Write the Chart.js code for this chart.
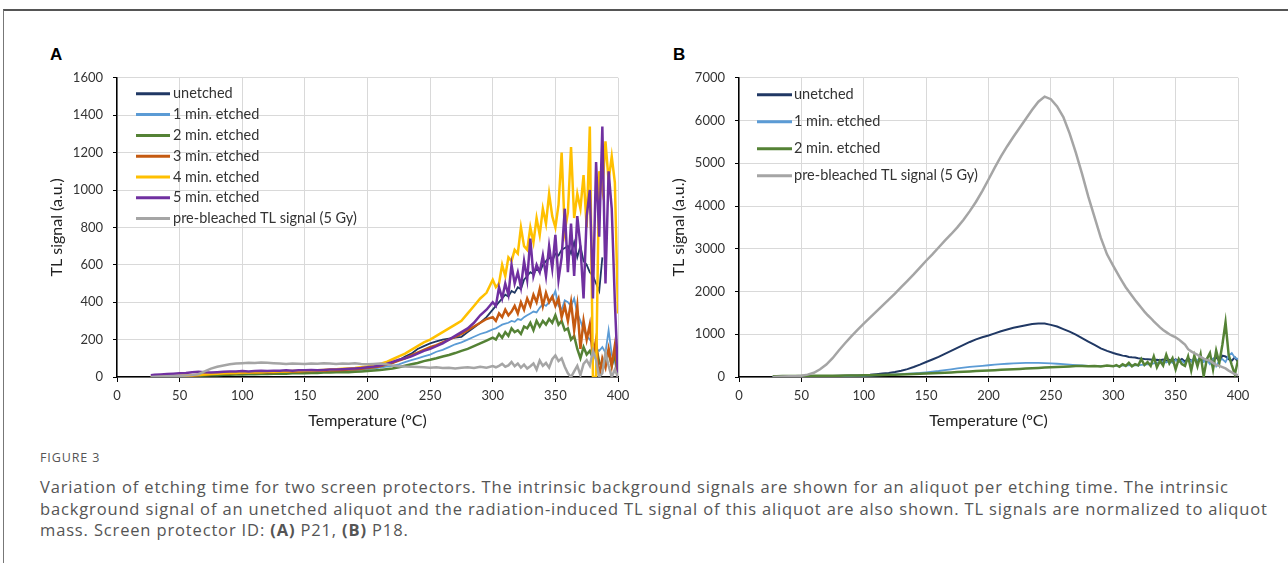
<!DOCTYPE html>
<html>
<head>
<meta charset="utf-8">
<script src="https://cdn.jsdelivr.net/npm/chart.js@4.4.1/dist/chart.umd.min.js"></script>
<style>
  body { margin: 0; background: #fff; width: 1288px; height: 563px; overflow: hidden; position: relative; }
  #frame { position: absolute; left: 3px; top: 9px; width: 1300px; height: 600px; border-top: 2px solid #555; border-left: 1px solid #777; }
  .panel { position: absolute; font: bold 17px "Liberation Sans", Arial, sans-serif; color: #000; line-height: 17px; }
  canvas { position: absolute; }
  #figlabel { position: absolute; left: 40px; top: 451px; font: 12.5px "Open Sans", sans-serif; color: #555; line-height: 14px; letter-spacing: 0.9px; }
  #captext { position: absolute; left: 40px; top: 476px; font: 16.5px "Open Sans", sans-serif; color: #555; line-height: 21.5px; white-space: nowrap; letter-spacing: 0.85px; }
</style>
</head>
<body>
<div id="frame"></div>
<div class="panel" style="left:50px; top:46px;">A</div>
<div class="panel" style="left:673px; top:46px;">B</div>
<canvas id="chartA" width="600" height="380" style="left:40px; top:60px;"></canvas>
<canvas id="chartB" width="600" height="380" style="left:660px; top:60px;"></canvas>
<div id="figlabel">FIGURE 3</div>
<div id="captext">Variation of etching time for two screen protectors. The intrinsic background signals are shown for an aliquot per etching time. The intrinsic<br>background signal of an unetched aliquot and the radiation-induced TL signal of this aliquot are also shown. TL signals are normalized to aliquot<br>mass. Screen protector ID: <b>(A)</b> P21, <b>(B)</b> P18.</div>

<script>
// Temperatur-Raster (°C), gemeinsam fuer beide Diagramme
const temps = [27, 30, 35, 40, 45, 50, 55, 60, 65, 70, 75,
    80, 85, 90, 95, 100, 105, 110, 115, 120, 125,
    130, 135, 140, 145, 150, 155, 160, 165, 170, 175,
    180, 185, 190, 195, 200, 205, 210, 215, 220, 225,
    230, 235, 240, 245, 250, 255, 260, 265, 270, 275,
    280, 285, 290, 295, 300,
    302.5, 305, 307.5, 310, 312.5, 315, 317.5, 320, 322.5, 325,
    327.5, 330, 332.5, 335, 337.5, 340, 342.5, 345, 347.5, 350,
    352.5, 355, 357.5, 360, 362.5, 365, 367.5, 370, 372.5, 375,
    377.5, 380, 382.5, 385, 387.5, 390, 392.5, 395, 397.5, 400];

// Diagramm A (P21)
const namesA = ['unetched', '1 min. etched', '2 min. etched', '3 min. etched', '4 min. etched', '5 min. etched', 'pre-bleached TL signal (5 Gy)'];

const unetchedA = [0, 0, 2, 3, 4, 5, 5, 6, 8, 10, 12,
    14, 15, 16, 18, 18, 20, 20, 22, 22, 24,
    24, 25, 26, 28, 28, 30, 30, 32, 34, 35,
    36, 38, 40, 42, 46, 50, 56, 64, 75, 90,
    110, 125, 150, 165, 180, 190, 200, 205, 210, 215,
    240, 265, 290, 320, 360,
    380, 400, 420, 440, 430, 460, 450, 480, 470, 520,
    540, 560, 550, 580, 560, 600, 620, 640, 620, 660,
    650, 680, 690, 700, 660, 720, 640, 700, 620, 600,
    560, 540, 500, 460, 640, null, null, null, null, null];

const etched1A = [0, 2, 3, 4, 5, 6, 6, 8, 10, 12, 14,
    15, 16, 18, 18, 20, 20, 22, 22, 24, 24,
    25, 26, 26, 28, 28, 30, 30, 32, 32, 34,
    35, 36, 38, 40, 42, 45, 50, 55, 60, 68,
    80, 90, 100, 110, 120, 135, 145, 160, 175, 185,
    200, 215, 230, 240, 255,
    260, 270, 280, 285, 290, 300, 295, 310, 305, 320,
    330, 340, 350, 345, 370, 390, 380, 400, 420, 460,
    380, 360, 410, 400, 380, 420, 340, 300, 250, 220,
    200, 180, 150, 140, 160, 130, 250, 120, 80, 0];

const etched2A = [0, 0, 2, 2, 3, 4, 4, 5, 6, 8, 10,
    10, 12, 12, 14, 14, 15, 15, 16, 16, 18,
    18, 18, 20, 20, 20, 22, 22, 24, 24, 25,
    25, 26, 28, 30, 32, 35, 38, 42, 46, 52,
    60, 68, 75, 85, 92, 100, 110, 118, 128, 140,
    150, 165, 180, 195, 210,
    200, 230, 210, 240, 220, 260, 240, 250, 230, 270,
    260, 290, 250, 300, 270, 300, 280, 310, 290, 330,
    280, 300, 250, 260, 200, 220, 150, 100, 160, 120,
    140, 100, 160, 80, 50, 90, 140, 60, 120, 20];

const etched3A = [0, 0, 2, 3, 4, 5, 6, 8, 10, 14, 16,
    18, 20, 20, 22, 22, 24, 24, 25, 26, 26,
    28, 28, 30, 30, 32, 32, 34, 34, 36, 36,
    38, 40, 42, 44, 48, 52, 58, 66, 76, 88,
    100, 115, 130, 145, 160, 170, 185, 200, 215, 230,
    250, 270, 290, 310, 320,
    300, 340, 320, 360, 330, 350, 380, 340, 400, 360,
    420, 380, 440, 400, 470, 380, 450, 400, 430, 380,
    420, 320, 380, 300, 400, 250, 380, 150, 300, 200,
    280, 100, 200, 0, 100, 50, 150, 60, 170, 0];

const etched4A = [0, 0, 2, 4, 5, 6, 8, 10, 12, 14, 16,
    18, 20, 22, 22, 24, 24, 26, 26, 28, 28,
    30, 30, 32, 32, 34, 34, 36, 38, 40, 42,
    44, 46, 48, 52, 56, 62, 70, 80, 95, 110,
    125, 145, 165, 185, 200, 220, 240, 260, 280, 300,
    340, 380, 420, 450, 520,
    480, 500, 600, 540, 640, 620, 680, 660, 800, 700,
    680, 800, 720, 850, 760, 900, 820, 980, 860, 800,
    920, 1200, 780, 880, 1230, 850, 980, 900, 1080, 800,
    1340, 0, 0, 1100, 1000, 1260, 1050, 1180, 1040, 340];

const etched5A = [10, 12, 14, 16, 18, 20, 22, 25, 28, 25, 24,
    26, 28, 30, 30, 32, 30, 32, 34, 32, 34,
    34, 36, 34, 36, 36, 38, 36, 38, 40, 40,
    42, 44, 46, 48, 52, 56, 62, 70, 80, 92,
    100, 110, 125, 140, 150, 165, 180, 200, 220, 240,
    260, 290, 330, 360, 400,
    380, 480, 420, 500, 440, 600, 500, 560, 480, 620,
    520, 740, 540, 600, 560, 650, 540, 700, 580, 760,
    520, 640, 900, 560, 820, 540, 860, 700, 420, 860,
    1000, 420, 1150, 750, 1340, 500, 1100, 900, 400, 0];

const bleachedA = [0, 2, 3, 4, 5, 6, 8, 10, 15, 30, 45,
    55, 62, 68, 72, 74, 76, 75, 77, 76, 74,
    72, 70, 72, 71, 70, 72, 71, 73, 72, 70,
    72, 71, 73, 70, 68, 70, 72, 68, 62, 58,
    56, 55, 54, 52, 50, 52, 48, 50, 46, 49,
    52, 48, 55, 50, 58,
    52, 60, 70, 55, 62, 80, 58, 72, 50, 66,
    45, 58, 72, 40, 88, 60, 75, 50, 95, 115,
    85, 100, 55, 20, 0, 30, 60, 10, 70, 90,
    60, 140, 90, 0, 20, 130, 60, 0, 40, 0];

// Diagramm B (P18)
const namesB = ['unetched', '1 min. etched', '2 min. etched', 'pre-bleached TL signal (5 Gy)'];

const unetchedB = [0, 0, 5, 8, 10, 12, 15, 18, 20, 22, 25,
    28, 30, 33, 36, 40, 50, 65, 80, 95, 115,
    145, 185, 235, 290, 350, 410, 470, 540, 610, 680,
    750, 820, 880, 930, 970, 1020, 1070, 1110, 1150, 1180,
    1210, 1240, 1250, 1250, 1220, 1180, 1120, 1060, 990, 910,
    830, 750, 670, 610, 560,
    540, 520, 500, 490, 470, 460, 455, 440, 430, 420,
    415, 410, 400, 405, 390, 410, 380, 400, 370, 410,
    380, 420, 360, 440, 380, 420, 360, 450, 400, 430,
    350, 420, 460, 380, 500, 480, 420, 380, 460, 350];

const etched1B = [0, 0, 2, 3, 5, 6, 8, 10, 12, 14, 16,
    18, 20, 22, 25, 28, 32, 38, 45, 52, 60,
    68, 76, 85, 95, 110, 125, 140, 160, 180, 200,
    220, 235, 250, 262, 275, 288, 300, 310, 318, 325,
    330, 332, 330, 325, 318, 310, 300, 290, 280, 270,
    262, 258, 255, 255, 258,
    262, 260, 270, 265, 275, 270, 280, 275, 285, 290,
    295, 300, 320, 340, 330, 360, 340, 380, 330, 400,
    350, 380, 320, 420, 360, 450, 380, 470, 350, 400,
    300, 420, 250, 380, 420, 350, 500, 560, 450, 420];

const etched2B = [20, 20, 22, 22, 22, 25, 25, 28, 30, 30, 32,
    32, 35, 35, 38, 40, 42, 45, 48, 52, 55,
    60, 65, 70, 75, 80, 85, 92, 100, 108, 115,
    122, 130, 138, 145, 152, 160, 168, 175, 182, 190,
    198, 205, 212, 220, 228, 235, 242, 248, 255, 255,
    250, 258, 245, 270, 250,
    280, 240, 300, 260, 330, 250, 300, 270, 420, 280,
    350, 260, 480, 230, 380, 270, 520, 320, 440, 180,
    420, 300, 260, 480, 150, 500, 250, 530, 20, 420,
    560, 180, 620, 330, 760, 1280, 520, 280, 60, 400];

const bleachedB = [0, 5, 10, 15, 20, 30, 55, 100, 180, 290, 440,
    620, 790, 950, 1100, 1250, 1390, 1530, 1670, 1810, 1950,
    2100, 2250, 2400, 2560, 2720, 2870, 3030, 3190, 3340, 3500,
    3680, 3880, 4100, 4350, 4620, 4900, 5160, 5400, 5620, 5830,
    6040, 6250, 6440, 6560, 6500, 6330, 6080, 5700, 5250, 4750,
    4220, 3740, 3260, 2870, 2600,
    2470, 2340, 2220, 2100, 2000, 1900, 1800, 1710, 1620, 1530,
    1450, 1380, 1300, 1230, 1160, 1100, 1050, 1000, 960, 930,
    880, 820, 760, 650, 600, 560, 520, 470, 430, 400,
    380, 330, 280, 260, 230, 200, 150, 110, 70, 40];

const colorsA = ['#203864', '#5b9bd5', '#548235', '#c55a11', '#ffc000', '#7030a0', '#a5a5a5'];
const colorsB = ['#203864', '#5b9bd5', '#548235', '#a5a5a5'];

// Legende innerhalb der Zeichenflaeche
const insideLegend = {
    id: 'insideLegend',
    afterDatasetsDraw(chart, args, opts) {
        const ctx = chart.ctx;
        const area = chart.chartArea;
        ctx.save();
        ctx.font = '14.5px Lato';
        ctx.fillStyle = '#333';
        ctx.textBaseline = 'middle';
        chart.data.datasets.forEach((ds, i) => {
            const y = area.top + opts.top + i * opts.step;
            ctx.strokeStyle = ds.borderColor;
            ctx.lineWidth = 3;
            ctx.beginPath();
            ctx.moveTo(area.left + opts.x0, y);
            ctx.lineTo(area.left + opts.x1, y);
            ctx.stroke();
            ctx.fillText(ds.label, area.left + opts.tx, y);
        });
        ctx.restore();
    }
};

function toPoints(values) {
    return temps.map((t, i) => ({ x: t, y: values[i] }));
}

function makeChart(id, names, series, colors, widths, yMax, yStep, axisWidth, padTop, titlePad, legend) {
    const datasets = series.map((s, i) => ({
        label: names[i],
        data: toPoints(s),
        borderColor: colors[i],
        borderWidth: widths[i],
        pointRadius: 0,
        fill: false,
        tension: 0,
        order: -i
    }));

    return new Chart(document.getElementById(id), {
        type: 'line',
        data: { datasets: datasets },
        options: {
            responsive: false,
            animation: false,
            devicePixelRatio: 1,
            layout: { padding: { top: padTop, right: 22, left: 0, bottom: 0 } },
            plugins: {
                legend: { display: false },
                tooltip: { enabled: false },
                insideLegend: legend
            },
            scales: {
                x: {
                    type: 'linear',
                    min: 0,
                    max: 400,
                    afterFit: s => { s.height = 63; },
                    ticks: { stepSize: 50, padding: 6, color: '#333', font: { family: 'Lato', size: 13 }, callback: v => String(v) },
                    grid: { color: '#d9d9d9', tickColor: '#000', tickLength: 5 },
                    border: { color: '#000', width: 1.5 },
                    title: { display: true, text: 'Temperature (°C)', color: '#222', font: { family: 'Lato', size: 16 }, padding: { top: 0, bottom: 10 } }
                },
                y: {
                    min: 0,
                    max: yMax,
                    afterFit: s => { s.width = axisWidth; },
                    ticks: { stepSize: yStep, padding: 10, color: '#333', font: { family: 'Lato', size: 13 }, callback: v => String(v) },
                    grid: { color: '#d9d9d9', tickColor: '#000', tickLength: 4 },
                    border: { color: '#000', width: 1.5 },
                    title: { display: true, text: 'TL signal (a.u.)', color: '#222', font: { family: 'Lato', size: 16 }, padding: { top: titlePad, bottom: 0 } }
                }
            }
        },
        plugins: [insideLegend]
    });
}

makeChart('chartA', namesA,
    [unetchedA, etched1A, etched2A, etched3A, etched4A, etched5A, bleachedA],
    colorsA, [1.8, 1.8, 2.5, 2.5, 2.5, 2.5, 2.5],
    1600, 200, 77, 14, 7,
    { top: 16, step: 20.8, x0: 19, x1: 53, tx: 56 });

makeChart('chartB', namesB,
    [unetchedB, etched1B, etched2B, bleachedB],
    colorsB, [2, 1.8, 2.5, 2.5],
    7000, 1000, 79, 15, 9,
    { top: 17, step: 27, x0: 18, x1: 53, tx: 55 });
</script>
</body>
</html>
